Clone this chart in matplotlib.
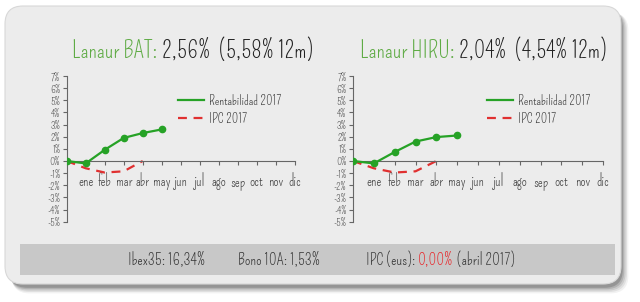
import matplotlib
matplotlib.use("Agg")
import matplotlib.pyplot as plt
from matplotlib.patches import FancyBboxPatch, Rectangle

plt.rcParams['font.family'] = ['Pompiere', 'DejaVu Sans']

# ---- data ----
x_labels = ['', 'ene', 'feb', 'mar', 'abr', 'may', 'jun', 'jul', 'ago', 'sep', 'oct', 'nov', 'dic']
y_ticks = [-5, -4, -3, -2, -1, 0, 1, 2, 3, 4, 5, 6, 7]
bat_rent = [0.0, -0.2, 0.92, 1.9, 2.3, 2.6]
hiru_rent = [0.0, -0.2, 0.74, 1.6, 1.97, 2.1]
ipc_2017 = [0.0, -0.6, -0.95, -0.85, 0.0]
titles = [("Lanaur BAT:", " 2,56%  (5,58% 12m)"), ("Lanaur HIRU:", " 2,04%  (4,54% 12m)")]
bottom_texts = ["Ibex35: 16,34%", "Bono 10A: 1,53%", "IPC (eus): ", "0,00%", " (abril 2017)"]

W, H = 640, 302
fig = plt.figure(figsize=(6.4, 3.02), dpi=100)
fig.patch.set_facecolor('white')

bg = fig.add_axes([0, 0, 1, 1])
bg.set_xlim(0, W)
bg.set_ylim(H, 0)
bg.axis('off')

# shadow
for i, a in enumerate([0.05, 0.07, 0.09, 0.12, 0.16]):
    off = 6 - i
    bg.add_patch(FancyBboxPatch((8 + off * 0.6, 9 + off * 0.6), 612 + off * 0.8, 276 + off * 0.8,
                                boxstyle="round,pad=0,rounding_size=18",
                                facecolor='black', edgecolor='none', alpha=a))
bg.add_patch(FancyBboxPatch((5, 6), 616, 278, boxstyle="round,pad=0,rounding_size=18",
                            facecolor='#ececec', edgecolor='#d8d8d8', lw=0.8))
bg.add_patch(Rectangle((20, 244), 595, 31, facecolor='#c8c8c8', edgecolor='none'))

# titles
fig.canvas.draw()
renderer = fig.canvas.get_renderer()
green_title = '#5fab45'
fs_t = 16.5
for (g, rest), x0 in zip(titles, [72, 360]):
    t1 = bg.text(x0, 58, g, color=green_title, fontsize=fs_t, va='baseline', ha='left')
    bb = t1.get_window_extent(renderer)
    bg.text(bb.x1, H - 58, rest, color='#222222', fontsize=fs_t, va='baseline', ha='left',
            transform=None)

# bottom texts
xs = [128, 238, 366]
fs_b = 11.3
by = 265
bg.text(xs[0], by, bottom_texts[0], fontsize=fs_b, color='#333333', va='baseline')
bg.text(xs[1], by, bottom_texts[1], fontsize=fs_b, color='#333333', va='baseline')
t = bg.text(xs[2], by, bottom_texts[2], fontsize=fs_b, color='#333333', va='baseline')
bb = t.get_window_extent(renderer)
t2 = bg.text(bb.x1, H - by, bottom_texts[3], fontsize=fs_b, color='#e8262a', va='baseline', transform=None)
bb2 = t2.get_window_extent(renderer)
bg.text(bb2.x1, H - by, bottom_texts[4], fontsize=fs_b, color='#333333', va='baseline', transform=None)


def make_chart(x0px, x1px, rent, legend_x):
    y_top, y_bot = 76, 221.7
    ax = fig.add_axes([x0px / W, 1 - y_bot / H, (x1px - x0px) / W, (y_bot - y_top) / H])
    ax.patch.set_alpha(0)
    ax.set_xlim(0, 12)
    ax.set_ylim(-5, 7)
    xs_r = list(range(len(rent)))
    xs_i = list(range(len(ipc_2017)))
    ax.plot(xs_r, rent, color='#26a226', lw=1.6, marker='o', ms=4.5, label='Rentabilidad 2017', zorder=3)
    ax.plot(xs_i, ipc_2017, color='#e03030', lw=1.6, ls=(0, (4, 3)), label='IPC 2017', zorder=2)
    for s in ['top', 'right']:
        ax.spines[s].set_visible(False)
    ax.spines['bottom'].set_position(('data', 0))
    ax.spines['bottom'].set_color('#666666')
    ax.spines['left'].set_color('#666666')
    ax.spines['bottom'].set_linewidth(0.8)
    ax.spines['left'].set_linewidth(0.8)
    ax.set_xticks(range(13))
    ax.set_xticklabels(x_labels, fontsize=10.5, color='#444444')
    ax.set_yticks(y_ticks)
    ax.set_yticklabels([f"{v}%" for v in y_ticks], fontsize=7.5, color='#444444')
    ax.tick_params(axis='x', length=3, pad=5, color='#666666')
    ax.tick_params(axis='y', length=3, pad=1.5, color='#666666')
    leg = ax.legend(loc='upper left', bbox_to_anchor=((legend_x - x0px) / (x1px - x0px), 0.88),
                    frameon=False, fontsize=9.5, handlelength=2.0, handletextpad=0.35,
                    labelspacing=0.3, borderpad=0, borderaxespad=0)
    for h in leg.legend_handles:
        h.set_marker('')
    for txt in leg.get_texts():
        txt.set_color('#333333')
    return ax


make_chart(66.7, 294.7, bat_rent, 178)
make_chart(353, 603, hiru_rent, 487)

fig.savefig('out.png', dpi=100, facecolor='white')
